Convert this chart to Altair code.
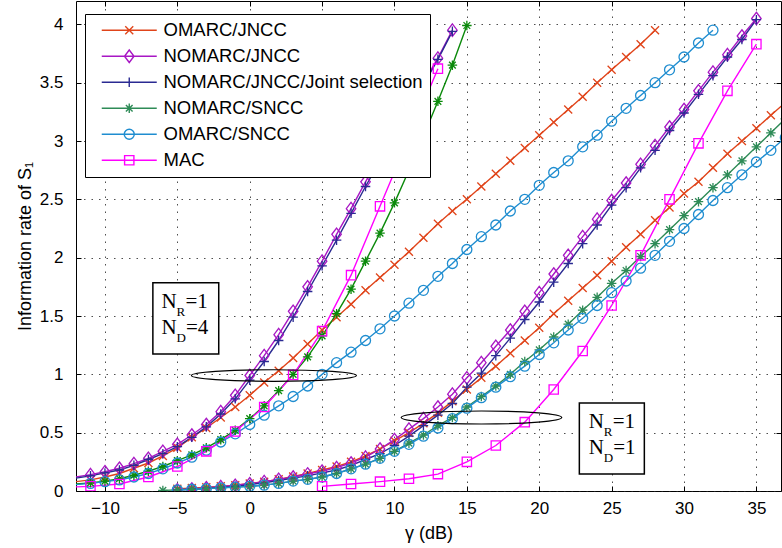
import altair as alt
import pandas as pd

# ---------------- series (legend order) ----------------
series_names = ["OMARC/JNCC", "NOMARC/JNCC", "NOMARC/JNCC/Joint selection",
                "NOMARC/SNCC", "OMARC/SNCC", "MAC"]
series_colors = ["#E0441A", "#A817C4", "#2A2A92", "#2E8B57", "#1F8DD0", "#FF00FF"]
nd4_green_key = "NOMARC/SNCC (N_D=4)"
nd4_green_color = "#0B8A0B"

# ---------------- N_R=1, N_D=4 (left group) ----------------
x4_omarc_jncc = list(range(-12, 29))
y4_omarc_jncc = [0.08, 0.095, 0.12, 0.15, 0.195, 0.24, 0.30, 0.37, 0.46, 0.54, 0.63, 0.72,
                 0.82, 0.93, 1.03, 1.14, 1.26, 1.38, 1.49, 1.60, 1.72, 1.83, 1.94, 2.05,
                 2.17, 2.29, 2.40, 2.50, 2.61, 2.72, 2.83, 2.94, 3.05, 3.16, 3.27, 3.38,
                 3.50, 3.61, 3.72, 3.83, 3.95]
x4_nomarc_jncc = list(range(-12, 15))
y4_nomarc_jncc = [0.12, 0.14, 0.165, 0.195, 0.235, 0.28, 0.34, 0.40, 0.48, 0.57, 0.68, 0.82,
                  0.99, 1.16, 1.34, 1.54, 1.75, 1.97, 2.20, 2.42, 2.65, 2.87, 3.08, 3.29,
                  3.50, 3.71, 3.95]
x4_joint = list(range(-12, 15))
y4_joint = [0.11, 0.13, 0.155, 0.18, 0.22, 0.27, 0.32, 0.38, 0.46, 0.55, 0.66, 0.79,
            0.95, 1.11, 1.29, 1.49, 1.71, 1.93, 2.15, 2.38, 2.61, 2.83, 3.05, 3.27,
            3.48, 3.70, 3.94]
x4_nomarc_sncc = list(range(-12, 16))
y4_nomarc_sncc = [0.06, 0.07, 0.085, 0.105, 0.135, 0.17, 0.21, 0.26, 0.31, 0.37, 0.44, 0.52,
                  0.62, 0.73, 0.86, 1.00, 1.15, 1.33, 1.52, 1.73, 1.97, 2.21, 2.47, 2.75,
                  3.04, 3.34, 3.65, 3.99]
x4_omarc_sncc = list(range(-12, 33))
y4_omarc_sncc = [0.055, 0.065, 0.08, 0.095, 0.12, 0.15, 0.19, 0.24, 0.29, 0.35, 0.42, 0.49,
                 0.57, 0.65, 0.73, 0.81, 0.90, 1.00, 1.10, 1.19, 1.29, 1.39, 1.50, 1.61,
                 1.72, 1.84, 1.95, 2.07, 2.18, 2.28, 2.40, 2.50, 2.62, 2.73, 2.83, 2.95,
                 3.05, 3.17, 3.28, 3.39, 3.50, 3.61, 3.72, 3.84, 3.95]
x4_mac = [-13, -11, -9, -7, -5, -3, -1, 1, 3, 5, 7, 9, 11, 13]
y4_mac = [0.03, 0.04, 0.06, 0.12, 0.21, 0.34, 0.51, 0.72, 0.995, 1.37, 1.85, 2.44, 3.03, 3.62]

# ---------------- N_R=1, N_D=1 (right group) ----------------
x1_omarc_jncc = list(range(-5, 38))
y1_omarc_jncc = [0.02, 0.025, 0.032, 0.04, 0.05, 0.065,
                 0.08, 0.10, 0.125, 0.15, 0.18, 0.21, 0.25, 0.30, 0.36, 0.43,
                 0.50, 0.58, 0.67, 0.77, 0.87, 0.97, 1.07, 1.18, 1.29, 1.40,
                 1.52, 1.63, 1.74, 1.85, 1.97, 2.09, 2.20, 2.32, 2.43, 2.55,
                 2.65, 2.77, 2.89, 3.00, 3.11, 3.22, 3.33]
x1_nomarc_jncc = list(range(-5, 36))
y1_nomarc_jncc = [0.01, 0.017, 0.028, 0.037, 0.049, 0.062,
                  0.08, 0.10, 0.12, 0.146, 0.17, 0.20, 0.24, 0.29, 0.36, 0.44,
                  0.53, 0.62, 0.72, 0.83, 0.97, 1.10, 1.24, 1.38, 1.54, 1.70,
                  1.86, 2.02, 2.18, 2.33, 2.49, 2.64, 2.80, 2.96, 3.12, 3.27,
                  3.43, 3.59, 3.74, 3.90, 4.05]
x1_joint = list(range(-5, 36))
y1_joint = [0.01, 0.015, 0.022, 0.03, 0.04, 0.055,
            0.07, 0.09, 0.11, 0.13, 0.155, 0.18, 0.22, 0.27, 0.32, 0.39,
            0.47, 0.56, 0.65, 0.75, 0.89, 1.01, 1.16, 1.31, 1.47, 1.62,
            1.79, 1.95, 2.12, 2.28, 2.45, 2.60, 2.77, 2.92, 3.09, 3.24,
            3.40, 3.56, 3.72, 3.87, 4.04]
x1_nomarc_sncc = list(range(-6, 38))
y1_nomarc_sncc = [0.005, 0.01, 0.015, 0.02, 0.027, 0.033, 0.04,
                  0.05, 0.065, 0.085, 0.10, 0.12, 0.15, 0.19, 0.23, 0.28, 0.34,
                  0.41, 0.48, 0.56, 0.63, 0.72, 0.81, 0.90, 1.00, 1.11, 1.21,
                  1.32, 1.43, 1.55, 1.66, 1.78, 1.89, 2.01, 2.12, 2.24, 2.36,
                  2.48, 2.60, 2.71, 2.83, 2.95, 3.07, 3.19]
x1_omarc_sncc = list(range(-5, 38))
y1_omarc_sncc = [0.01, 0.015, 0.02, 0.027, 0.033, 0.04,
                 0.05, 0.065, 0.085, 0.10, 0.12, 0.15, 0.19, 0.23, 0.28, 0.34,
                 0.40, 0.47, 0.54, 0.62, 0.71, 0.80, 0.89, 0.98, 1.07, 1.17,
                 1.27, 1.38, 1.48, 1.59, 1.70, 1.80, 1.91, 2.02, 2.14, 2.25,
                 2.37, 2.49, 2.60, 2.71, 2.82, 2.92, 3.03]
x1_mac = [5, 7, 9, 11, 13, 15, 17, 19, 21, 23, 25, 27, 29, 31, 33, 35]
y1_mac = [0.04, 0.06, 0.08, 0.105, 0.145, 0.25, 0.39, 0.59, 0.87, 1.20, 1.59, 2.02,
          2.50, 2.98, 3.43, 3.83]

# ---------------- annotations (data units) ----------------
ann_box_x1 = [-6.69, 22.77]
ann_box_x2 = [-2.14, 27.26]
ann_box_ylo = [1.175, 0.146]
ann_box_yhi = [1.784, 0.755]
ann_text_x = [-6.1, 23.42]
ann_line1_y = [1.569, 0.538]
ann_line2_y = [1.346, 0.317]
ann_nr = ["=1", "=1"]
ann_nd = ["=4", "=1"]
ellipse_x = [1.67, 16.01]
ellipse_y = [0.99, 0.63]

# ---------------- build table ----------------
curves = [
    ("OMARC/JNCC", "a4", x4_omarc_jncc, y4_omarc_jncc),
    ("NOMARC/JNCC", "b4", x4_nomarc_jncc, y4_nomarc_jncc),
    ("NOMARC/JNCC/Joint selection", "c4", x4_joint, y4_joint),
    (nd4_green_key, "d4", x4_nomarc_sncc, y4_nomarc_sncc),
    ("OMARC/SNCC", "e4", x4_omarc_sncc, y4_omarc_sncc),
    ("MAC", "f4", x4_mac, y4_mac),
    ("OMARC/JNCC", "a1", x1_omarc_jncc, y1_omarc_jncc),
    ("NOMARC/JNCC", "b1", x1_nomarc_jncc, y1_nomarc_jncc),
    ("NOMARC/JNCC/Joint selection", "c1", x1_joint, y1_joint),
    ("NOMARC/SNCC", "d1", x1_nomarc_sncc, y1_nomarc_sncc),
    ("OMARC/SNCC", "e1", x1_omarc_sncc, y1_omarc_sncc),
    ("MAC", "f1", x1_mac, y1_mac),
]
rows = []
for key, curve, xs, ys in curves:
    assert len(xs) == len(ys), (curve, len(xs), len(ys))
    for xv, yv in zip(xs, ys):
        rows.append({"key": key, "curve": curve, "x": xv, "y": yv})
data = pd.DataFrame(rows)

ann = pd.DataFrame({"bx1": ann_box_x1, "bx2": ann_box_x2, "by1": ann_box_ylo,
                    "by2": ann_box_yhi, "tx": ann_text_x, "ty1": ann_line1_y,
                    "ty2": ann_line2_y, "nr": ann_nr, "nd": ann_nd})
ell = pd.DataFrame({"x": ellipse_x, "y": ellipse_y, "i": [0, 1]})

# ---------------- styles ----------------
m_x = "M-0.8,-0.8L0.8,0.8M-0.8,0.8L0.8,-0.8"
m_diamond = "M0,-1.25L0.95,0L0,1.25L-0.95,0Z"
m_plus = "M-0.95,0H0.95M0,-0.95V0.95"
m_star = "M-0.95,0H0.95M0,-0.95V0.95M-0.67,-0.67L0.67,0.67M-0.67,0.67L0.67,-0.67"
m_circle = ("M1,0C1,0.5523 0.5523,1 0,1C-0.5523,1 -1,0.5523 -1,0"
            "C-1,-0.5523 -0.5523,-1 0,-1C0.5523,-1 1,-0.5523 1,0Z")
m_square = "M-0.93,-0.93H0.93V0.93H-0.93Z"
markers = [m_x, m_diamond, m_plus, m_star, m_circle, m_square]
legend_symbols = ["M-5.5,0H5.5" + m for m in markers]

all_keys = series_names + [nd4_green_key]
all_colors = series_colors + [nd4_green_color]
all_markers = markers + [m_star]


def ellipse_path(r):
    k = 0.5523
    return (f"M-1,0C-1,{-k*r:.4f} {-k},{-r:.4f} 0,{-r:.4f}C{k},{-r:.4f} 1,{-k*r:.4f} 1,0"
            f"C1,{k*r:.4f} {k},{r:.4f} 0,{r:.4f}C{-k},{r:.4f} -1,{k*r:.4f} -1,0Z")


FONT = "Liberation Sans"
SERIF = "Liberation Serif"
x_scale = alt.Scale(domain=[-12, 36.7], nice=False, zero=False)
y_scale = alt.Scale(domain=[0, 4.2], nice=False, zero=False)
x_ticks = [-10, -5, 0, 5, 10, 15, 20, 25, 30, 35]
y_ticks = [0, 0.5, 1, 1.5, 2, 2.5, 3, 3.5, 4]

x_axis_bottom = alt.Axis(values=x_ticks, orient="bottom", offset=-5, domain=False,
                         tickSize=5, tickColor="black", tickWidth=1,
                         labelFont=FONT, labelFontSize=17, labelColor="black", labelPadding=9,
                         grid=True, gridColor="#222", gridDash=[1.5, 6], gridOpacity=0.8,
                         gridWidth=1, title="γ (dB)", titleFont=FONT, titleFontSize=18,
                         titleFontWeight="normal", titleColor="black",
                         titleBaseline="alphabetic", titleY=52)
y_axis_left = alt.Axis(values=y_ticks, orient="left", offset=-5, domain=False, format="~g",
                       tickSize=5, tickColor="black", tickWidth=1,
                       labelFont=FONT, labelFontSize=17, labelColor="black", labelPadding=13,
                       grid=True, gridColor="#222", gridDash=[1.5, 6], gridOpacity=0.8,
                       gridWidth=1, title="Information rate of S₁", titleFont=FONT,
                       titleFontSize=18, titleFontWeight="normal", titleColor="black",
                       titleBaseline="alphabetic", titleX=-51)
x_axis_top = alt.Axis(values=x_ticks, orient="top", offset=-5, domain=False, labels=False,
                      tickSize=5, tickColor="black", tickWidth=1, grid=False, title=None)
y_axis_right = alt.Axis(values=y_ticks, orient="right", offset=-5, domain=False, labels=False,
                        tickSize=5, tickColor="black", tickWidth=1, grid=False, title=None)

lines = alt.Chart(data).mark_line(strokeWidth=1.4, clip=True).encode(
    x=alt.X("x:Q", scale=x_scale, axis=x_axis_bottom),
    y=alt.Y("y:Q", scale=y_scale, axis=y_axis_left),
    color=alt.Color("key:N", scale=alt.Scale(domain=all_keys, range=all_colors), legend=None),
    detail="curve:N",
)

points = alt.Chart(data).transform_filter("datum.x >= -11.5").mark_point(
    filled=False, size=100, strokeWidth=1.3, opacity=1, clip=True
).encode(
    x=alt.X("x:Q", scale=x_scale, axis=x_axis_top),
    y=alt.Y("y:Q", scale=y_scale, axis=y_axis_right),
    color=alt.Color("key:N", scale=alt.Scale(domain=all_keys, range=all_colors), legend=None),
    shape=alt.Shape("key:N", scale=alt.Scale(domain=all_keys, range=all_markers), legend=None),
)

ell1 = alt.Chart(ell).transform_filter("datum.i == 0").mark_point(
    shape=ellipse_path(0.07), size=27225, filled=False, color="black", strokeWidth=1.2,
    opacity=1
).encode(x=alt.X("x:Q", scale=x_scale, axis=None), y=alt.Y("y:Q", scale=y_scale, axis=None))
ell2 = alt.Chart(ell).transform_filter("datum.i == 1").mark_point(
    shape=ellipse_path(0.081), size=25792, filled=False, color="black", strokeWidth=1.2,
    opacity=1
).encode(x=alt.X("x:Q", scale=x_scale, axis=None), y=alt.Y("y:Q", scale=y_scale, axis=None))

boxes = alt.Chart(ann).mark_rect(fill="white", stroke="black", strokeWidth=1.5).encode(
    x=alt.X("bx1:Q", scale=x_scale, axis=None), x2="bx2:Q",
    y=alt.Y("by1:Q", scale=y_scale, axis=None), y2="by2:Q",
)

tbase = alt.Chart(ann)
txt_n1 = tbase.mark_text(text="N", align="left", baseline="alphabetic", font=SERIF,
                         fontSize=21, color="black").encode(
    x=alt.X("tx:Q", scale=x_scale, axis=None), y=alt.Y("ty1:Q", scale=y_scale, axis=None))
txt_r = tbase.mark_text(text="R", align="left", baseline="alphabetic", font=SERIF,
                        fontSize=13, color="black", dx=15, dy=8).encode(
    x=alt.X("tx:Q", scale=x_scale, axis=None), y=alt.Y("ty1:Q", scale=y_scale, axis=None))
txt_eq1 = tbase.mark_text(align="left", baseline="alphabetic", font=SERIF,
                          fontSize=21, color="black", dx=24).encode(
    x=alt.X("tx:Q", scale=x_scale, axis=None), y=alt.Y("ty1:Q", scale=y_scale, axis=None),
    text="nr:N")
txt_n2 = tbase.mark_text(text="N", align="left", baseline="alphabetic", font=SERIF,
                         fontSize=21, color="black").encode(
    x=alt.X("tx:Q", scale=x_scale, axis=None), y=alt.Y("ty2:Q", scale=y_scale, axis=None))
txt_d = tbase.mark_text(text="D", align="left", baseline="alphabetic", font=SERIF,
                        fontSize=13, color="black", dx=15, dy=8).encode(
    x=alt.X("tx:Q", scale=x_scale, axis=None), y=alt.Y("ty2:Q", scale=y_scale, axis=None))
txt_eq2 = tbase.mark_text(align="left", baseline="alphabetic", font=SERIF,
                          fontSize=21, color="black", dx=24.5).encode(
    x=alt.X("tx:Q", scale=x_scale, axis=None), y=alt.Y("ty2:Q", scale=y_scale, axis=None),
    text="nd:N")

leg = alt.Legend(title=None, orient="none", legendX=9, legendY=13, fillColor="white",
                 strokeColor="black", padding=7, labelFont=FONT, labelFontSize=18.5,
                 labelColor="black", labelLimit=0, symbolSize=100, symbolStrokeWidth=1.4,
                 symbolOffset=28, labelOffset=25, rowPadding=7,
                 symbolFillColor="transparent")
legend_layer = alt.Chart(data).transform_filter("false").mark_point(
    filled=False, size=100, strokeWidth=1.4, opacity=1
).encode(
    x=alt.X("x:Q", scale=x_scale, axis=None),
    y=alt.Y("y:Q", scale=y_scale, axis=None),
    color=alt.Color("key:N", scale=alt.Scale(domain=series_names, range=series_colors), legend=leg),
    shape=alt.Shape("key:N", scale=alt.Scale(domain=series_names, range=legend_symbols), legend=leg),
)

chart = alt.layer(
    lines, points, ell1, ell2, boxes, txt_n1, txt_r, txt_eq1, txt_n2, txt_d, txt_eq2,
    legend_layer
).resolve_scale(
    color="independent", shape="independent"
).resolve_axis(
    x="independent", y="independent"
).properties(
    width=705, height=490,
    padding={"left": 76, "top": 1, "right": 1, "bottom": 57},
    autosize=alt.AutoSizeParams(type="none"),
).configure_view(stroke="black", strokeWidth=1)

chart.save("out.html", embed_options={"renderer": "svg", "actions": False})
